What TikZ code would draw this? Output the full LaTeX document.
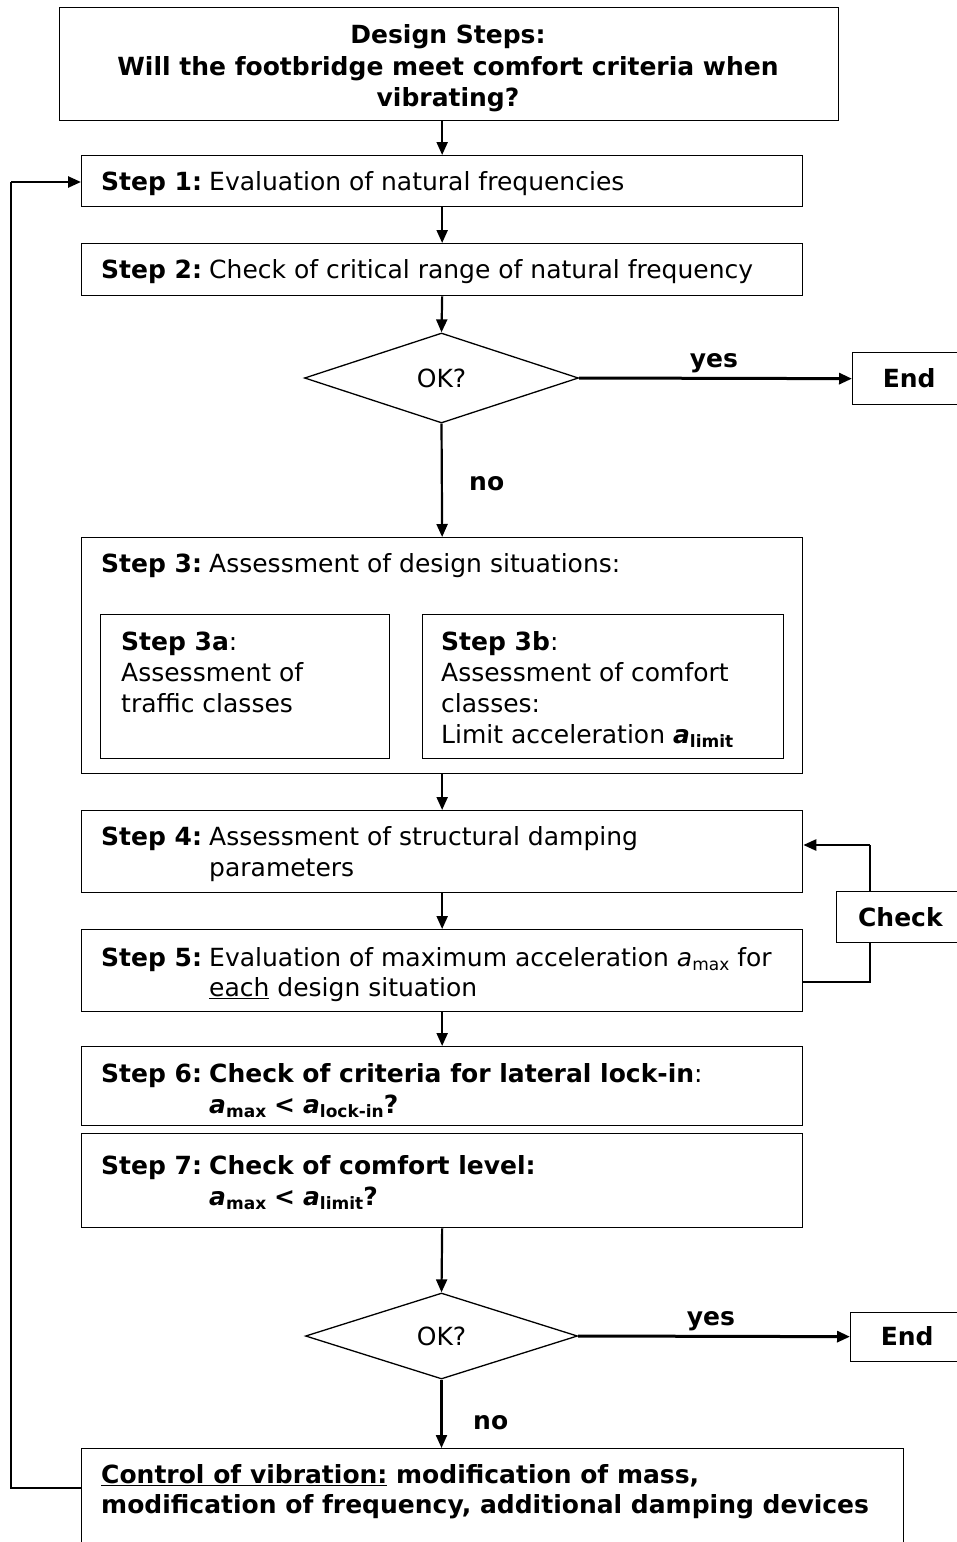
\documentclass[tikz,border=0pt]{standalone}
\usepackage{fontspec}
\setmainfont{DejaVu Sans}
\usetikzlibrary{arrows.meta,shapes.geometric}
\newcommand{\sbx}[1]{\raisebox{-4pt}{\fontsize{17}{17}\selectfont #1}}
\newcommand{\bai}{\textbf{\textit{a}}}
\begin{document}
\begin{tikzpicture}[x=1pt,y=-1pt,
  every node/.style={font=\fontsize{25}{31}\selectfont},
  box/.style={draw, line width=1.3pt, rectangle, anchor=north west, inner sep=0pt},
  txt/.style={anchor=base west, inner sep=0pt},
  ctxt/.style={anchor=base, inner sep=0pt},
  flow/.style={line width=2.2pt, -{Triangle[length=13pt,width=11pt]}},
  yesarr/.style={line width=3pt, -{Triangle[length=13pt,width=11pt]}},
  thinline/.style={line width=1.3pt},
  dec/.style={draw, diamond, line width=1.3pt, inner sep=0pt, aspect=3}
]
\useasboundingbox (0,0) rectangle (957,1542);
\clip (0,0) rectangle (957,1542);
\fill[white] (0,0) rectangle (957,1542);

% boxes
\node[box, minimum width=779pt, minimum height=113pt] (top) at (59,7) {};
\node[box, minimum width=721pt, minimum height=51pt] (s1) at (81,155) {};
\node[box, minimum width=721pt, minimum height=52pt] (s2) at (81,243) {};
\node[dec, minimum width=274pt, minimum height=90pt] (d1) at (441.5,378) {OK?};
\node[box, minimum width=113pt, minimum height=52pt] (end1) at (852,352) {\textbf{End}};
\node[box, minimum width=721pt, minimum height=236pt] (s3) at (81,537) {};
\node[box, minimum width=289pt, minimum height=144pt] (s3a) at (100,614) {};
\node[box, minimum width=361pt, minimum height=144pt] (s3b) at (422,614) {};
\node[box, minimum width=721pt, minimum height=82pt] (s4) at (81,810) {};
\node[box, minimum width=721pt, minimum height=82pt] (s5) at (81,929) {};
\node[box, minimum width=128pt, minimum height=51pt] (check) at (836,891) {\textbf{Check}};
\node[box, minimum width=721pt, minimum height=79pt] (s6) at (81,1046) {};
\node[box, minimum width=721pt, minimum height=94pt] (s7) at (81,1133) {};
\node[dec, minimum width=272pt, minimum height=86pt] (d2) at (441.5,1336) {OK?};
\node[box, minimum width=113pt, minimum height=49pt] (end2) at (850,1311.5) {\textbf{End}};
\node[box, minimum width=822pt, minimum height=150pt] (ctrl) at (81,1448) {};

% texts
\node[ctxt] (t1) at (448,43) {\textbf{Design Steps:}};
\node[ctxt] (t2) at (448,75) {\textbf{Will the footbridge meet comfort criteria when}};
\node[ctxt] (t3) at (448,106) {\textbf{vibrating?}};

\node[txt] (l1) at (101,190) {\textbf{Step 1:}};
\node[txt] (b1) at (209,190) {Evaluation of natural frequencies};
\node[txt] (l2) at (101,278) {\textbf{Step 2:}};
\node[txt] (b2) at (209,278) {Check of critical range of natural frequency};

\node[txt] (l3) at (101,572) {\textbf{Step 3:}};
\node[txt] (b3) at (209,572) {Assessment of design situations:};
\node[txt] (l3a) at (121,650) {\textbf{Step 3a}:};
\node[txt] (b3a1) at (121,681) {Assessment of};
\node[txt] (b3a2) at (121,712) {traffic classes};
\node[txt] (l3b) at (441,650) {\textbf{Step 3b}:};
\node[txt] (b3b1) at (441,681) {Assessment of comfort};
\node[txt] (b3b2) at (441,712) {classes:};
\node[txt] (b3b3) at (441,743) {Limit acceleration \bai\sbx{\textbf{limit}}};

\node[txt] (l4) at (101,845) {\textbf{Step 4:}};
\node[txt] (b41) at (209,845) {Assessment of structural damping};
\node[txt] (b42) at (209,876) {parameters};

\node[txt] (l5) at (101,966) {\textbf{Step 5:}};
\node[txt] (b51) at (209,966) {Evaluation of maximum acceleration \textit{a}\sbx{max} for};
\node[txt] (b52) at (209,996) {\underline{each} design situation};

\node[txt] (l6) at (101,1082) {\textbf{Step 6:}};
\node[txt] (b61) at (209,1082) {\textbf{Check of criteria for lateral lock-in}:};
\node[txt] (b62) at (209,1113) {\bai\sbx{\textbf{max}} \textbf{<} \bai\sbx{\textbf{lock-in}}\textbf{?}};

\node[txt] (l7) at (101,1174) {\textbf{Step 7:}};
\node[txt] (b71) at (209,1174) {\textbf{Check of comfort level:}};
\node[txt] (b72) at (209,1205) {\bai\sbx{\textbf{max}} \textbf{<} \bai\sbx{\textbf{limit}}\textbf{?}};

\node[txt] (c1) at (101,1483) {\textbf{\underline{Control of vibration:} modification of mass,}};
\node[txt] (c2) at (101,1513) {\textbf{modification of frequency, additional damping devices}};

% labels
\node[ctxt] (yes1) at (714,367) {\textbf{yes}};
\node[ctxt] (yes2) at (711,1325) {\textbf{yes}};
\node[txt] (no1) at (469,490) {\textbf{no}};
\node[txt] (no2) at (473,1429) {\textbf{no}};

% connectors
\draw[flow] (top.south -| s1.north) -- (s1.north);
\draw[flow] (s1) -- (s2);
\draw[flow] (s2.south) -- (d1.north);
\draw[yesarr] (d1.east) -- (end1.west);
\draw[flow] (d1.south) -- (s3.north);
\draw[flow] (s3) -- (s4);
\draw[flow] (s4) -- (s5);
\draw[flow] (s5) -- (s6);
\draw[flow] (s7.south) -- (d2.north);
\draw[yesarr] (d2.east) -- (end2.west);
\draw[flow] (d2.south) -- (ctrl.north -| d2.south);

\coordinate (lpA) at (11,1488);
\coordinate (lpB) at (11,182);
\draw[thinline] (ctrl.west |- lpA) -- (lpA) -- (lpB);
\draw[yesarr, line width=2.5pt] (lpB) -- (lpB -| s1.west);

\coordinate (ckA) at (870,845);
\coordinate (ckB) at (870,982);
\draw[thinline] (check.north -| ckA) -- (ckA);
\draw[yesarr, line width=2.5pt] (ckA) -- (ckA -| s4.east);
\draw[thinline] (check.south -| ckB) -- (ckB) -- (ckB -| s5.east);
\end{tikzpicture}
\end{document}
